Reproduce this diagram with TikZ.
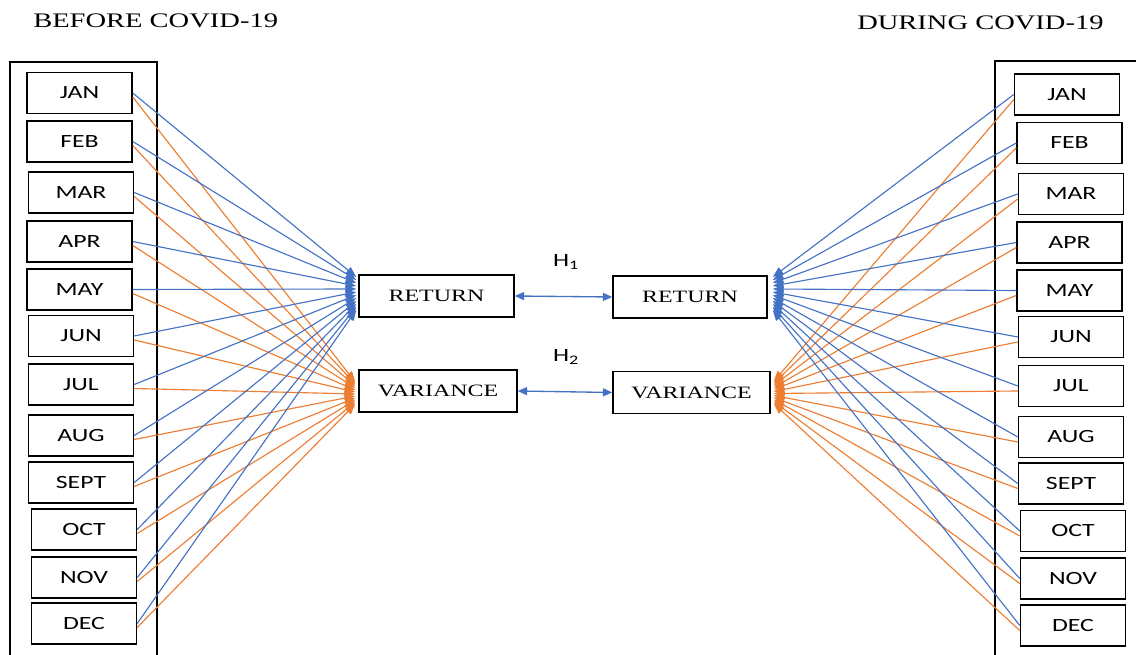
\documentclass[tikz,border=0pt]{standalone}
\usepackage{fontspec}
\setmainfont{Liberation Serif}[FakeStretch=1.38]
\newfontfamily\monthfont{Carlito}[FakeStretch=1.38]
\usepackage{tikz}
\newcommand{\monthwidth}{78.75pt}
\newcommand{\monthheight}{30.75pt}
\definecolor{myBlue}{RGB}{68,114,196}
\definecolor{myOrange}{RGB}{237,125,49}
\usetikzlibrary{arrows.meta,calc,positioning}
\tikzset{
  x=0.75pt,y=-0.75pt,
  monthbox/.style={draw,line width=1.1pt,minimum width=\monthwidth,minimum height=\monthheight,inner sep=0,font=\monthfont\fontsize{14}{16}\selectfont},
  measbox/.style={draw,line width=1.1pt,minimum height=31.5pt,inner sep=0,font=\fontsize{13}{15}\selectfont},
  heading/.style={anchor=west,inner sep=0,font=\fontsize{15.5}{18}\selectfont},
  hlabel/.style={inner sep=0,font=\monthfont\fontsize{14}{16}\selectfont},
  outer/.style={draw,line width=1.1pt},
  link/.style={draw,line width=0.85pt,-{Triangle[length=8pt,width=6pt]}},
  twoway/.style={draw,line width=1pt,myBlue,{Triangle[length=7pt,width=6pt]}-{Triangle[length=7pt,width=6pt]}},
}
\begin{document}
\begin{tikzpicture}
  \useasboundingbox (0,0) rectangle (1136,655);
  \node (before) [heading] at (33,20.5) {BEFORE COVID-19};
  \node (during) [heading] at (857,22.5) {DURING COVID-19};
  \draw [outer] (10,62) rectangle (157,670);
  \draw [outer] (995,61) rectangle (1150,670);
  \foreach \m/\x/\y [count=\i] in {JAN/79.5/93,FEB/79.5/141.5,MAR/81/192.5,APR/79.5/241.5,MAY/79.5/289.5,JUN/81/336,JUL/81/384.5,AUG/81/435.5,SEPT/81/482.5,OCT/84/529.5,NOV/84/577.5,DEC/84/623.5}
    \node (l\i) [monthbox] at (\x,\y) {\m};
  \foreach \m/\x/\y [count=\i] in {JAN/1067/94.5,FEB/1069.5/143,MAR/1071/194,APR/1069.5/242.5,MAY/1069.5/290.5,JUN/1071/337,JUL/1071/386,AUG/1071/437,SEPT/1071/483.5,OCT/1073/531,NOV/1073/578.5,DEC/1073/625.5}
    \node (r\i) [monthbox] at (\x,\y) {\m};
  \node (lret) [measbox,minimum width=116.25pt] at (436.5,296) {RETURN};
  \node (lvar) [measbox,minimum width=118.5pt] at (438,391) {VARIANCE};
  \node (rret) [measbox,minimum width=115.5pt] at (690,297) {RETURN};
  \node (rvar) [measbox,minimum width=117.75pt] at (691.5,392.5) {VARIANCE};
  \node (h1) [hlabel] at (566,262) {H\textsubscript{1}};
  \node (h2) [hlabel] at (566,357) {H\textsubscript{2}};
  \path [twoway] (lret.east) -- (rret.west);
  \path [twoway] (lvar.east) -- (rvar.west);
  \foreach \i in {1,...,12} {
    \path [link,myBlue] (l\i.east) -- ($(lret.west)+(-2,-22+3*\i)$);
    \path [link,myOrange] ($(l\i.east)+(0,4)$) -- ($(lvar.west)+(-3,-11+2*\i)$);
    \path [link,myBlue] (r\i.west) -- ($(rret.east)+(5,-23+3*\i)$);
    \path [link,myOrange] ($(r\i.west)+(0,5)$) -- ($(rvar.east)+(3,-13+2*\i)$);
  }
\end{tikzpicture}
\end{document}
